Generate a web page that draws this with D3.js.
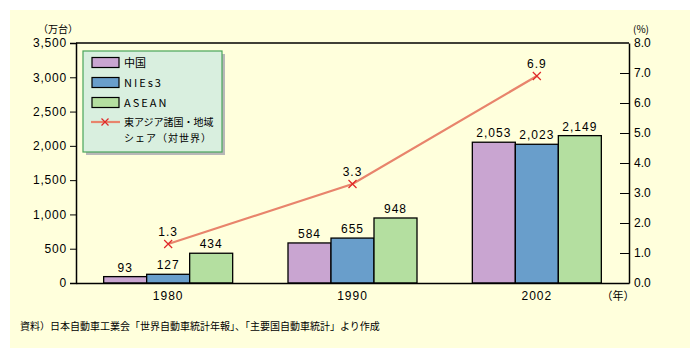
<!DOCTYPE html>
<html><head><meta charset="utf-8">
<script src="https://cdn.jsdelivr.net/npm/d3@7"></script>
<style>
body{margin:0;background:#fff;}
svg text{font-family:"Liberation Sans",Arial,sans-serif;}
.jp{font-family:"Noto Sans CJK JP",sans-serif;}
</style></head><body>
<svg id="c" width="700" height="359"></svg>
<script>
const years = ["1980","1990","2002"];
const seriesNames = ["中国","NIEs3","ASEAN"];
const china = [93,584,2053];
const nies3 = [127,655,2023];
const asean = [434,948,2149];
const share = [1.3,3.3,6.9];
const leftTicks = [0,500,1000,1500,2000,2500,3000,3500];
const rightTicks = [0,1,2,3,4,5,6,7,8];
const colors = ["#c9a5d1","#699ecb","#b4dfa0"];

const svg = d3.select("#c");
svg.append("rect").attr("x",10).attr("y",10).attr("width",680).attr("height",338).attr("fill","#ffffdc");

const L=76,R=629,T=43,B=283;
const x = d3.scaleBand().domain(years).range([L,R]).paddingInner(0).paddingOuter(0);
const xs = d3.scaleBand().domain(seriesNames).range([0,129]);
const y = d3.scaleLinear().domain([0,3500]).range([B,T]);
const y2 = d3.scaleLinear().domain([0,8]).range([B,T]);
const fmt = d3.format(",");

// frame
svg.append("line").attr("x1",L).attr("x2",R).attr("y1",T).attr("y2",T).attr("stroke","#000").attr("stroke-width",1.5);

// bars
const data = [china,nies3,asean];
const bw = 129;
data.forEach((arr,si)=>{
  const g = svg.append("g");
  years.forEach((yr,i)=>{
    const x0 = x(yr)+ (x.bandwidth()-bw)/2 + xs(seriesNames[si]);
    g.append("rect").attr("x",x0).attr("y",y(arr[i])).attr("width",xs.bandwidth()).attr("height",B-y(arr[i]))
      .attr("fill",colors[si]).attr("stroke","#000").attr("stroke-width",1.3);
    g.append("text").attr("x",x0+xs.bandwidth()/2).attr("y",y(arr[i])-5).attr("text-anchor","middle")
      .attr("font-size",12).attr("letter-spacing",1).attr("fill","#000").text(fmt(arr[i]));
  });
});

// axes
const la = svg.append("g").attr("transform",`translate(${L},0)`)
  .call(d3.axisLeft(y).tickValues(leftTicks).tickSize(6).tickPadding(3).tickFormat(fmt));
la.selectAll("text").attr("font-size",12).attr("letter-spacing",0.8).attr("fill","#000").attr("font-family","Liberation Sans, Arial, sans-serif");
la.select(".domain").attr("stroke-width",1.5);
const ra = svg.append("g").attr("transform",`translate(${R},0)`)
  .call(d3.axisRight(y2).tickValues(rightTicks).tickSize(0).tickPadding(5).tickFormat(d3.format(".1f")));
ra.selectAll("text").attr("font-size",12).attr("fill","#000").attr("font-family","Liberation Sans, Arial, sans-serif");
ra.select(".domain").attr("stroke-width",1.5);
ra.selectAll(".tick").filter(d=>d>0&&d<8).append("line").attr("x1",-9).attr("x2",0).attr("stroke","#000");
const ba = svg.append("g").attr("transform",`translate(0,${B})`)
  .call(d3.axisBottom(x).tickSize(0).tickPadding(8));
ba.selectAll("text").attr("font-size",12).attr("letter-spacing",1).attr("fill","#000").attr("font-family","Liberation Sans, Arial, sans-serif");
ba.select(".domain").attr("stroke-width",1.5);

// line
const cx = d=>x(d)+x.bandwidth()/2;
const line = d3.line().x((d,i)=>cx(years[i])).y(d=>y2(d));
svg.append("path").datum(share).attr("d",line).attr("fill","none").attr("stroke","#e8846c").attr("stroke-width",2.2);
share.forEach((v,i)=>{
  const px=cx(years[i]), py=y2(v);
  svg.append("path").attr("d",`M${px-4},${py-4}L${px+4},${py+4}M${px+4},${py-4}L${px-4},${py+4}`).attr("stroke","#e02828").attr("stroke-width",1.2);
  svg.append("text").attr("x",px).attr("y",py-8).attr("text-anchor","middle").attr("font-size",12).attr("letter-spacing",1).text(v.toFixed(1));
});

// units
svg.append("text").attr("class","jp").attr("x",58).attr("y",33).attr("text-anchor","middle").attr("font-size",10).text("（万台）");
svg.append("text").attr("class","jp").attr("x",641).attr("y",33).attr("text-anchor","middle").attr("font-size",10).text("(%)");
svg.append("text").attr("class","jp").attr("x",618).attr("y",300).attr("text-anchor","middle").attr("font-size",11).text("（年）");

// legend
const lg = svg.append("g");
lg.append("rect").attr("x",86).attr("y",54).attr("width",139).attr("height",101).attr("fill","#b8b8b8");
lg.append("rect").attr("x",83).attr("y",51).attr("width",139).attr("height",101).attr("fill","#d9efdf").attr("stroke","#4aa55a").attr("stroke-width",1.2);
seriesNames.forEach((n,i)=>{
  lg.append("rect").attr("x",92).attr("y",57.5+i*20).attr("width",27).attr("height",10).attr("fill",colors[i]).attr("stroke","#000").attr("stroke-width",1.2);
  lg.append("text").attr("class","jp").attr("x",124).attr("y",67+i*20).attr("font-size",11).attr("letter-spacing",i>0?2:0).text(n);
});
lg.append("line").attr("x1",91).attr("x2",120).attr("y1",122).attr("y2",122).attr("stroke","#e8846c").attr("stroke-width",2.2);
lg.append("path").attr("d","M101.5,118.5L108.5,125.5M108.5,118.5L101.5,125.5").attr("stroke","#e02828").attr("stroke-width",1.2);
lg.append("text").attr("class","jp").attr("x",124).attr("y",126).attr("font-size",10).attr("letter-spacing",0).text("東アジア諸国・地域");
lg.append("text").attr("class","jp").attr("x",124).attr("y",142).attr("font-size",10).attr("letter-spacing",1).text("シェア（対世界）");

// source
svg.append("text").attr("class","jp").attr("x",20).attr("y",330).attr("font-size",10).text("資料）日本自動車工業会「世界自動車統計年報」、「主要国自動車統計」より作成");
</script>
</body></html>
